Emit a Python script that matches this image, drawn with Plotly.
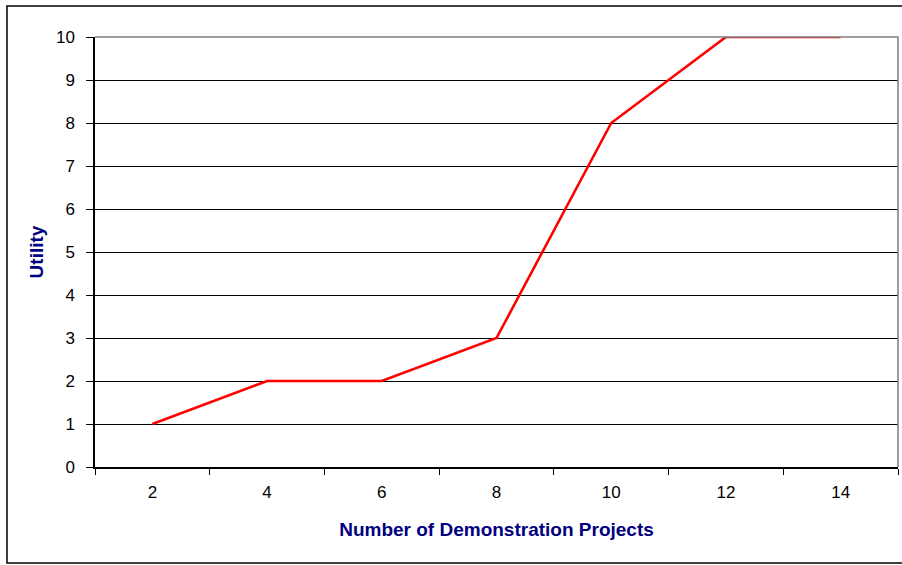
import plotly.graph_objects as go

# Number of demonstration projects vs. utility score
projects = ["2", "4", "6", "8", "10", "12", "14"]
utility = [1, 2, 2, 3, 8, 10, 10]
y_ticks = [0, 1, 2, 3, 4, 5, 6, 7, 8, 9, 10]

W, H = 902, 565
L, R, T, B = 95, 4, 37, 98
pw, ph = W - L - R, H - T - B

fig = go.Figure(
    go.Scatter(
        x=projects,
        y=utility,
        mode="lines",
        line=dict(color="#ff0000", width=2.6),
        hoverinfo="x+y",
    )
)

axis_font = dict(family="Arial, Liberation Sans, sans-serif", size=17, color="#000000")
title_font = dict(family="Arial, Liberation Sans, sans-serif", size=19, color="#000080")

fig.update_layout(
    width=W,
    height=H,
    margin=dict(l=L, r=R, t=T, b=B, pad=0),
    paper_bgcolor="white",
    plot_bgcolor="white",
    showlegend=False,
    xaxis=dict(
        type="category",
        range=[-0.5, len(projects) - 0.5],
        tickson="boundaries",
        ticks="outside",
        ticklen=6,
        tickcolor="#000000",
        tickwidth=1,
        showgrid=False,
        showline=True,
        linecolor="#000000",
        linewidth=1.5,
        tickfont=axis_font,
        ticklabelstandoff=9,
        title=dict(text="<b>Number of Demonstration Projects</b>", font=title_font, standoff=22),
        zeroline=False,
    ),
    yaxis=dict(
        range=[0, 10],
        tickvals=y_ticks,
        ticks="outside",
        ticklen=7,
        tickcolor="#000000",
        tickwidth=1,
        showgrid=True,
        gridcolor="#000000",
        gridwidth=1,
        showline=True,
        linecolor="#000000",
        linewidth=1.5,
        tickfont=axis_font,
        ticklabelstandoff=8,
        title=dict(text="<b>Utility</b>", font=title_font, standoff=7),
        zeroline=False,
    ),
)

# Plot-area border (gray) on the top and right edges
fig.add_shape(
    type="path",
    xref="paper", yref="paper",
    path="M 0 1 L 1 1 L 1 0",
    line=dict(color="#808080", width=1.5),
    layer="above",
)

# Outer chart frame
fig.add_shape(
    type="rect",
    xref="paper", yref="paper",
    x0=(7 - L) / pw, x1=(905 - L) / pw,
    y0=(H - B - 563) / ph, y1=(H - B - 6) / ph,
    line=dict(color="#000000", width=1.5),
    layer="below",
)

fig.write_html("out.html")
